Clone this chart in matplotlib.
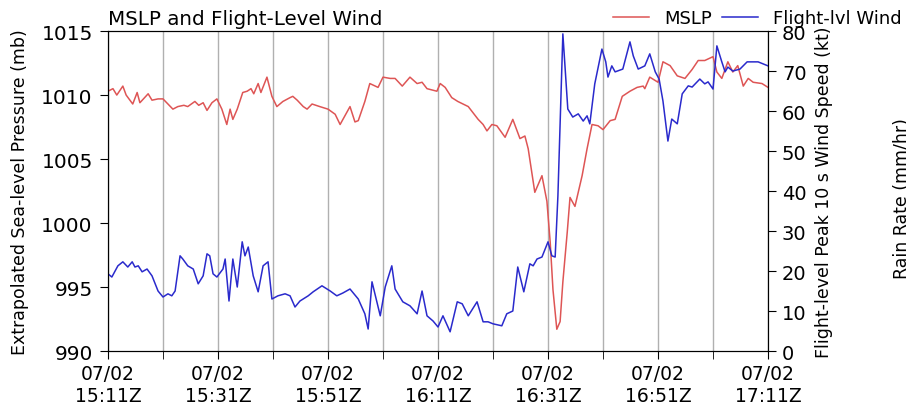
import matplotlib.pyplot as plt

# 時間：自 07/02 15:11Z 起算的分鐘數
mslp_min = [0.0, 0.9, 1.6, 2.7, 3.3, 4.5, 5.3, 5.8, 7.3, 8.0, 9.1, 10.0, 10.9, 11.8,
            12.7, 13.8, 14.5, 15.8, 16.5, 17.3, 18.0, 18.9, 19.8, 20.7, 21.6, 22.2,
            22.7, 23.5, 24.5, 25.3, 26.0, 26.5, 27.3, 27.8, 28.9, 29.8, 30.7, 31.8,
            33.1, 33.6, 34.4, 35.5, 36.2, 37.1, 38.5, 40.0, 41.3, 42.2, 43.1, 44.0,
            44.9, 45.5, 46.7, 47.6, 49.1, 50.0, 51.3, 52.2, 53.5, 54.9, 56.2, 57.1,
            58.0, 59.8, 60.4, 61.3, 62.5, 63.6, 65.5, 67.3, 68.2, 68.9, 69.8, 70.7,
            72.2, 73.6, 74.9, 75.8, 76.4, 77.6, 78.9, 79.8, 80.4, 80.9, 81.6, 82.2,
            82.7, 83.5, 84.0, 84.9, 86.2, 87.1, 88.0, 89.1, 90.0, 91.3, 92.2, 93.5,
            94.9, 96.2, 97.3, 97.6, 98.5, 100.0, 100.9, 102.2, 103.5, 104.9, 106.2,
            107.3, 108.5, 110.0, 110.7, 111.6, 112.7, 113.6, 114.5, 115.5, 116.4,
            117.3, 118.9, 120.0]
mslp = [1010.3, 1010.5, 1010.0, 1010.7, 1010.0, 1009.3, 1010.2, 1009.4, 1010.1, 1009.6,
        1009.7, 1009.7, 1009.3, 1008.9, 1009.1, 1009.2, 1009.1, 1009.5, 1009.2, 1009.4,
        1008.8, 1009.4, 1009.7, 1008.9, 1007.7, 1008.9, 1008.1, 1008.9, 1010.2, 1010.3,
        1010.5, 1010.1, 1010.9, 1010.2, 1011.4, 1009.9, 1009.1, 1009.5, 1009.8, 1009.9,
        1009.6, 1009.1, 1008.9, 1009.3, 1009.1, 1008.9, 1008.5, 1007.7, 1008.4, 1009.1,
        1007.9, 1008.0, 1009.5, 1010.9, 1010.6, 1011.4, 1011.3, 1011.3, 1010.7, 1011.4,
        1010.9, 1011.0, 1010.5, 1010.3, 1010.9, 1010.6, 1009.8, 1009.5, 1009.1, 1008.1,
        1007.7, 1007.2, 1007.7, 1007.6, 1006.7, 1008.1, 1006.6, 1006.8, 1005.8, 1002.4,
        1003.7, 1001.7, 998.5, 994.8, 991.7, 992.3, 995.4, 999.3, 1002.0, 1001.3,
        1003.7, 1005.8, 1007.7, 1007.6, 1007.3, 1008.0, 1008.1, 1009.9, 1010.3, 1010.6,
        1010.7, 1010.5, 1011.4, 1011.0, 1012.6, 1012.3, 1011.5, 1011.3, 1012.0, 1012.7,
        1012.7, 1013.0, 1011.8, 1011.3, 1012.6, 1011.8, 1012.3, 1010.7, 1011.3, 1011.0,
        1010.9, 1010.6]

wind_min = [0.0, 0.7, 1.8, 2.7, 3.6, 4.4, 4.9, 5.5, 6.2, 7.1, 8.0, 9.1, 10.0, 10.9,
            11.6, 12.2, 13.1, 13.6, 14.5, 15.5, 16.4, 17.3, 18.0, 18.5, 19.1, 19.8,
            20.9, 21.3, 22.0, 22.7, 23.5, 24.4, 24.9, 25.5, 26.4, 27.3, 28.2, 29.1,
            29.8, 30.9, 32.2, 33.1, 34.0, 34.9, 36.4, 37.3, 38.9, 40.4, 41.6, 42.7,
            44.0, 45.5, 46.7, 47.3, 48.0, 49.5, 50.4, 51.6, 52.2, 53.6, 54.9, 56.2,
            57.1, 58.0, 59.1, 60.0, 60.9, 62.2, 63.5, 64.4, 65.5, 67.1, 68.2, 69.1,
            70.0, 71.6, 72.5, 73.6, 74.5, 75.6, 76.7, 77.3, 78.0, 78.9, 80.0, 80.7,
            81.3, 81.8, 82.7, 83.6, 84.5, 85.5, 86.4, 87.1, 87.6, 88.5, 89.8, 90.5,
            90.9, 91.6, 92.2, 93.6, 94.9, 95.5, 96.4, 97.6, 98.5, 99.5, 100.2, 100.9,
            101.8, 102.5, 103.5, 104.4, 105.5, 106.2, 107.6, 108.5, 109.1, 110.0,
            110.7, 111.6, 112.2, 112.7, 113.6, 114.9, 116.2, 118.2, 120.0]
wind = [19.3, 18.5, 21.3, 22.3, 21.0, 22.3, 21.0, 21.3, 19.8, 20.5, 18.8, 15.0, 13.5,
        14.3, 13.8, 15.0, 23.8, 23.0, 21.3, 20.5, 16.8, 18.8, 24.3, 23.8, 19.3, 18.5,
        20.5, 23.0, 12.5, 23.0, 16.0, 27.3, 23.8, 26.0, 18.8, 14.8, 21.3, 22.3, 13.0,
        13.8, 14.3, 13.8, 11.0, 12.5, 13.8, 14.8, 16.3, 15.0, 13.8, 14.5, 15.5, 13.0,
        9.3, 5.5, 17.3, 8.8, 16.0, 21.3, 15.5, 12.3, 11.3, 9.3, 15.0, 8.8, 7.5, 6.0,
        8.8, 4.8, 12.3, 11.8, 8.8, 12.3, 7.3, 7.3, 6.8, 6.3, 9.3, 10.0, 21.0, 14.8,
        21.8, 21.3, 23.0, 23.5, 27.3, 23.8, 23.5, 38.8, 79.3, 60.5, 58.5, 59.3, 57.5,
        58.8, 56.8, 66.8, 75.5, 72.3, 68.5, 71.3, 69.8, 70.5, 77.3, 73.8, 70.5, 71.3,
        74.3, 69.8, 68.0, 62.5, 52.5, 58.0, 56.8, 64.3, 66.3, 66.0, 68.0, 66.8, 67.3,
        65.5, 76.3, 72.3, 69.8, 71.0, 70.0, 70.5, 72.3, 72.3, 71.3]

tick_min = [0, 20, 40, 60, 80, 100, 120]
tick_labels = ['07/02\n15:11Z', '07/02\n15:31Z', '07/02\n15:51Z', '07/02\n16:11Z',
               '07/02\n16:31Z', '07/02\n16:51Z', '07/02\n17:11Z']

fig = plt.figure(figsize=(9.06, 4.06), dpi=100)
ax = fig.add_axes([0.1192, 0.133, 0.7285, 0.788])
ax2 = ax.twinx()

l1, = ax.plot(mslp_min, mslp, color='#de5555', lw=1.1, label='MSLP')
l2, = ax2.plot(wind_min, wind, color='#2a2acc', lw=1.1, label='Flight-lvl Wind')

ax.set_xlim(0, 120)
ax.set_ylim(990, 1015)
ax2.set_ylim(0, 80)
ax.set_xticks(tick_min)
ax.set_xticklabels(tick_labels)
ax.set_xticks(range(10, 120, 20), minor=True)
ax.grid(True, axis='x', which='both', color='#b0b0b0', lw=1)
ax.tick_params(axis='x', which='both', labelsize=13.5, length=6)
ax.tick_params(axis='y', labelsize=14.5, length=6, pad=5)
ax2.tick_params(axis='y', labelsize=14, length=6, pad=4)

ax.set_ylabel('Extrapolated Sea-level Pressure (mb)', fontsize=12.5, labelpad=9)
ax2.set_ylabel('Flight-level Peak 10 s Wind Speed (kt)', fontsize=12.5, labelpad=6)
ax.set_title('MSLP and Flight-Level Wind', fontsize=14.3, loc='left', pad=5)

fig.legend(handles=[l1, l2], loc='upper right', bbox_to_anchor=(1.013, 1.015),
           ncol=2, frameon=False, fontsize=13, handlelength=2.0,
           handletextpad=0.8, columnspacing=0.6)

# 右側被裁切的下一張圖的軸標籤
fig.text(0.986, 0.51, 'Rain Rate (mm/hr)', rotation=90, ha='left', va='center',
         fontsize=12.5)

fig.savefig('out.png', dpi=100)
